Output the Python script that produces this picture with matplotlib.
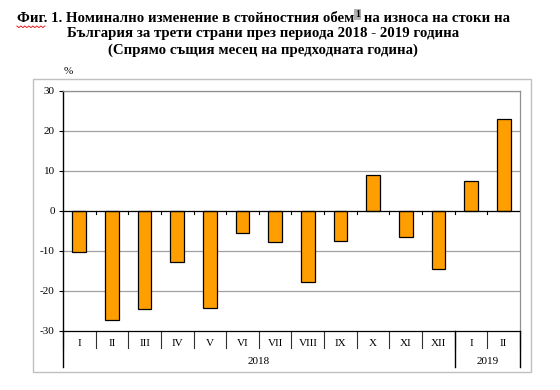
import matplotlib
matplotlib.use("Agg")
import matplotlib.pyplot as plt
from matplotlib.lines import Line2D
from matplotlib.patches import Rectangle
import matplotlib.transforms as mtransforms
import numpy as np

months = ['I', 'II', 'III', 'IV', 'V', 'VI', 'VII', 'VIII', 'IX', 'X', 'XI', 'XII', 'I', 'II']
values = [-10.3, -27.3, -24.5, -12.9, -24.3, -5.6, -7.9, -17.8, -7.5, 9.0, -6.6, -14.5, 7.5, 23.0]
years = ['2018', '2019']
year_counts = [12, 2]
yticks = [-30, -20, -10, 0, 10, 20, 30]

title_l1a = 'Фиг. 1. Номинално изменение в стойностния обем'
title_sup = '1'
title_l1b = ' на износа на стоки на'
title_l2 = 'България за трети страни през периода 2018 - 2019 година'
title_l3 = '(Спрямо същия месец на предходната година)'

W, H = 560, 390
fig = plt.figure(figsize=(W / 100, H / 100), dpi=100)
serif = 'Liberation Serif'

def fx(px):
    return px / W

def fy(py):
    return 1 - py / H

# outer chart frame
fig.add_artist(Rectangle((fx(33), fy(372)), fx(531) - fx(33), fy(79) - fy(372),
                         transform=fig.transFigure, fill=False, edgecolor='#c0c0c0', lw=1.0))

L, R, T, B = 63, 520, 90.5, 331
ax = fig.add_axes([fx(L), fy(B), fx(R) - fx(L), fy(T) - fy(B)])
n = len(months)
x = np.arange(n)
ax.bar(x, values, width=0.42, color='#FF9E00', edgecolor='black', linewidth=0.9, zorder=3)
ax.set_xlim(-0.5, n - 0.5)
ax.set_ylim(-30, 30)
ax.set_yticks(yticks)
ax.set_yticklabels([str(v) for v in yticks], fontfamily=serif, fontsize=8)
ax.tick_params(axis='y', direction='out', length=3, width=0.8, pad=3)
ax.set_xticks([])
for v in yticks:
    if v not in (0, -30):
        ax.axhline(v, color='#a0a0a0', lw=0.9, zorder=1)
ax.axhline(0, color='black', lw=0.9, zorder=4)
for s in ['top', 'right']:
    ax.spines[s].set_color('#909090')
    ax.spines[s].set_linewidth(0.9)
ax.spines['left'].set_color('black')
ax.spines['left'].set_linewidth(1.0)
ax.spines['bottom'].set_color('black')
ax.spines['bottom'].set_linewidth(0.9)

# tick marks on zero line at category boundaries
for b in np.arange(0.5, n - 0.5, 1):
    ax.plot([b, b], [0, -0.75], color='black', lw=0.8, zorder=4, clip_on=False)

# hierarchical category axis
bt = mtransforms.blended_transform_factory(ax.transData, ax.transAxes)
ah = B - T
row1 = -(348 - B) / ah
row2 = -(367 - B) / ah
for b in np.arange(-0.5, n + 0.5, 1):
    ax.add_line(Line2D([b, b], [0, row1], transform=bt, color='#303030', lw=0.8, clip_on=False))
for i, m in enumerate(months):
    ax.text(i, -(343 - B) / ah, m, transform=bt, ha='center', va='center',
            fontfamily=serif, fontsize=8)
start = 0
ax.add_line(Line2D([-0.5, -0.5], [0, row2], transform=bt, color='black', lw=1.0, clip_on=False))
for yr, c in zip(years, year_counts):
    end = start + c
    ax.add_line(Line2D([end - 0.5, end - 0.5], [0, row2], transform=bt, color='black', lw=1.0, clip_on=False))
    ax.text((start + end - 1) / 2, -(362 - B) / ah, yr, transform=bt, ha='center', va='center',
            fontfamily=serif, fontsize=8)
    start = end

fig.text(fx(68), fy(72), '%', ha='center', va='center', fontfamily=serif, fontsize=8)

# title
tkw = dict(fontfamily=serif, fontweight='bold', fontsize=10.7, va='center')
fig.text(fx(263), fy(34), title_l2, ha='center', **tkw)
fig.text(fx(263), fy(50.5), title_l3, ha='center', **tkw)
ta = fig.text(0, fy(18), title_l1a, ha='left', **tkw)
ts = fig.text(0, fy(14.5), title_sup, ha='left', fontfamily=serif, fontweight='bold', fontsize=7,
              va='center', bbox=dict(facecolor='#b0b0b0', edgecolor='none', pad=0.6))
tb = fig.text(0, fy(18), title_l1b, ha='left', **tkw)
r = fig.canvas.get_renderer()
wa = ta.get_window_extent(r).width
ws = ts.get_window_extent(r).width
wb = tb.get_window_extent(r).width
x0 = 263 - (wa + ws + wb) / 2
ta.set_x(fx(x0))
ts.set_x(fx(x0 + wa + 0.5))
tb.set_x(fx(x0 + wa + ws + 0.5))

# spell-check squiggle under "Фиг."
sq_x = np.arange(x0, x0 + 29, 2.0)
sq_y = 26 + np.where(np.arange(len(sq_x)) % 2 == 0, 0, 1.6)
fig.add_artist(Line2D(fx(sq_x), fy(sq_y), transform=fig.transFigure, color='#e02020', lw=0.7))

fig.savefig('out.png', dpi=100)
